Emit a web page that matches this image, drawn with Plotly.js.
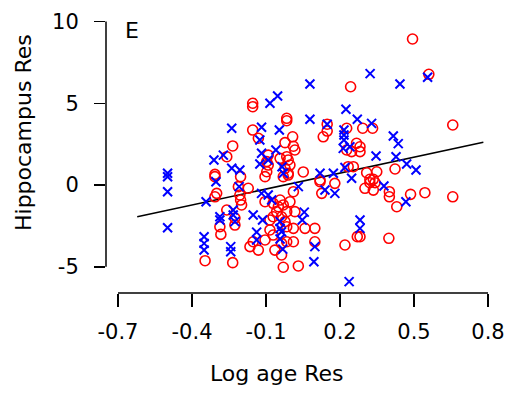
<!DOCTYPE html>
<html>
<head>
<meta charset="utf-8">
<script src="https://cdn.plot.ly/plotly-3.0.1.min.js"></script>
<style>html,body{margin:0;padding:0;background:#fff;}#chart{width:521px;height:398px;}</style>
</head>
<body>
<div id="chart"></div>
<script>
// Blue crosses (Log age Res, Hippocampus Res)
const blueX = [-0.499,-0.499,-0.499,-0.499,-0.273,-0.311,-0.239,-0.206,-0.303,-0.343,
  -0.233,-0.233,-0.226,-0.287,-0.287,-0.351,-0.351,-0.351,-0.243,-0.243,
  -0.239,-0.209,0.078,-0.053,-0.084,0.224,0.078,0.270,0.148,-0.118,
  -0.046,0.216,0.216,0.216,0.240,0.213,-0.060,-0.125,-0.118,-0.125,
  -0.091,-0.035,-0.030,0.119,0.173,0.220,0.247,0.031,-0.118,-0.091,
  -0.077,-0.152,-0.114,0.055,0.047,-0.043,-0.043,-0.138,-0.138,-0.037,
  -0.043,-0.032,0.098,0.094,0.281,0.281,0.139,0.179,0.237,0.322,
  0.443,0.555,0.328,0.416,0.436,0.346,0.427,0.470,0.508,0.378,0.467];
const blueY = [0.72,0.51,-0.41,-2.61,1.83,1.53,1.02,0.92,0.20,-1.02,
  -1.53,-1.83,-2.24,-1.94,-2.14,-3.16,-3.57,-3.98,-3.77,-4.08,
  3.47,-0.10,6.18,5.44,5.00,4.63,4.02,4.02,3.72,3.53,
  3.36,3.36,3.06,2.75,2.34,2.24,2.14,2.75,1.94,1.28,
  1.53,1.12,0.72,0.72,0.72,1.07,0.41,-0.10,-0.51,-0.61,
  -0.92,-1.83,-2.14,-1.66,-2.14,-2.24,-2.65,-2.88,-3.36,-2.86,
  -3.30,-3.92,-3.77,-4.69,-2.14,-2.65,-0.31,-0.51,-5.91,6.81,
  6.18,6.59,3.77,3.00,2.53,1.77,1.73,1.28,0.92,-0.06,-1.02];

// Red circles
const redX = [-0.235,-0.259,-0.203,-0.307,-0.307,-0.212,-0.300,-0.307,-0.206,-0.203,
  -0.199,-0.259,-0.226,-0.226,-0.287,-0.283,-0.347,-0.235,-0.154,-0.154,
  -0.154,-0.131,0.243,-0.016,-0.016,0.148,0.148,0.132,0.227,0.292,
  0.332,0.008,-0.023,0.011,0.017,0.267,0.281,0.281,-0.091,-0.097,
  -0.043,-0.016,-0.003,-0.010,0.051,0.119,0.494,0.560,0.657,0.308,
  0.349,0.423,0.321,0.335,0.321,0.342,0.301,0.335,0.400,0.400,
  0.430,0.486,0.544,0.657,0.281,0.398,0.227,0.247,-0.010,-0.091,
  -0.097,-0.104,-0.023,-0.030,-0.010,0.233,0.254,0.119,0.126,0.179,
  -0.172,0.011,-0.003,-0.104,-0.071,-0.043,-0.030,-0.050,-0.057,-0.016,
  -0.037,-0.071,-0.084,0.017,0.011,0.058,0.098,-0.023,-0.016,-0.084,
  -0.071,-0.104,-0.152,-0.131,-0.165,0.011,-0.064,-0.037,-0.037,-0.016,
  0.098,-0.030,0.031,0.220,0.270];
const redY = [2.39,1.73,0.51,0.65,0.51,-0.10,-0.51,-0.72,-0.61,-0.92,
  -1.22,-1.53,-2.02,-2.45,-2.55,-3.02,-4.63,-4.75,5.00,4.79,
  3.36,2.86,6.01,4.08,3.93,3.72,3.30,2.95,3.47,3.47,
  3.47,2.95,2.59,2.37,2.14,2.55,2.34,2.04,1.83,1.43,
  1.63,1.73,1.22,0.72,0.80,0.31,8.93,6.77,3.67,0.75,
  0.81,0.98,0.35,0.35,0.14,0.14,-0.20,-0.31,-0.41,-0.72,
  -1.33,-0.57,-0.47,-0.72,-3.16,-3.26,2.14,2.04,1.53,1.22,
  0.81,0.51,1.02,0.51,0.61,1.12,1.12,0.20,-0.51,0.10,
  -0.20,-0.41,-1.02,-1.02,-1.12,-0.92,-1.22,-1.33,-1.63,-1.63,
  -1.94,-1.94,-2.14,-1.63,-2.65,-2.65,-2.65,-2.24,-2.55,-2.75,
  -3.06,-3.36,-3.47,-3.98,-3.77,-3.47,-3.98,-4.28,-3.57,-3.47,
  -3.47,-5.03,-4.95,-3.67,-3.16];

// Fitted line end points
const fitX = [-0.622, 0.781];
const fitY = [-1.94, 2.61];

// Axis ticks
const xTicks = [-0.7, -0.4, -0.1, 0.2, 0.5, 0.8];
const xTickText = ['-0.7', '-0.4', '-0.1', '0.2', '0.5', '0.8'];
const yTicks = [-5, 0, 5, 10];
const yTickText = ['-5', '0', '5', '10'];

const FONT = 'DejaVu Sans, sans-serif';
const traces = [
  {x: fitX, y: fitY, mode: 'lines', line: {color: '#000', width: 1.5}, hoverinfo: 'skip'},
  {x: redX, y: redY, mode: 'markers', marker: {symbol: 'circle-open', size: 10, color: '#ff0000', line: {width: 1.6, color: '#ff0000'}}},
  {x: blueX, y: blueY, mode: 'markers', marker: {symbol: 'x-thin-open', size: 9, color: '#0000ff', line: {width: 2, color: '#0000ff'}}}
];

const layout = {
  width: 521, height: 398,
  margin: {l: 106, r: 21, t: 15, b: 105},
  paper_bgcolor: '#fff', plot_bgcolor: '#fff',
  showlegend: false,
  font: {family: FONT, size: 21, color: '#000'},
  xaxis: {range: [-0.7486, 0.8485], showgrid: false, zeroline: false, showline: false,
    tickmode: 'array', tickvals: xTicks, ticktext: xTickText,
    ticks: 'outside', ticklen: 13, tickwidth: 1.5, tickcolor: '#000',
    ticklabelstandoff: 7, tickfont: {family: FONT, size: 21, color: '#000'}},
  yaxis: {range: [-6.605, 10.398], showgrid: false, zeroline: false, showline: false,
    tickmode: 'array', tickvals: yTicks, ticktext: yTickText,
    ticks: 'outside', ticklen: 11, tickwidth: 1.5, tickcolor: '#000',
    ticklabelstandoff: 11, tickfont: {family: FONT, size: 21, color: '#000'}},
  shapes: [
    {type: 'line', xref: 'x', yref: 'paper', x0: xTicks[0], x1: xTicks[xTicks.length-1], y0: 0, y1: 0, line: {color: '#000', width: 1.5}},
    {type: 'line', xref: 'paper', yref: 'y', x0: 0, x1: 0, y0: yTicks[0], y1: yTicks[yTicks.length-1], line: {color: '#000', width: 1.5}}
  ],
  annotations: [
    {text: 'Log age Res', xref: 'paper', yref: 'paper', x: 0.434, y: -0.2878, xanchor: 'center', yanchor: 'middle', showarrow: false, font: {family: FONT, size: 22, color: '#000'}},
    {text: 'Hippocampus Res', xref: 'paper', yref: 'paper', x: -0.2107, y: 0.579, xanchor: 'center', yanchor: 'middle', textangle: -90, showarrow: false, font: {family: FONT, size: 22, color: '#000'}},
    {text: 'E', xref: 'paper', yref: 'paper', x: 0.043, y: 0.946, xanchor: 'left', yanchor: 'middle', showarrow: false, font: {family: FONT, size: 22, color: '#000'}}
  ]
};

Plotly.newPlot('chart', traces, layout, {displayModeBar: false, staticPlot: true});
</script>
</body>
</html>
